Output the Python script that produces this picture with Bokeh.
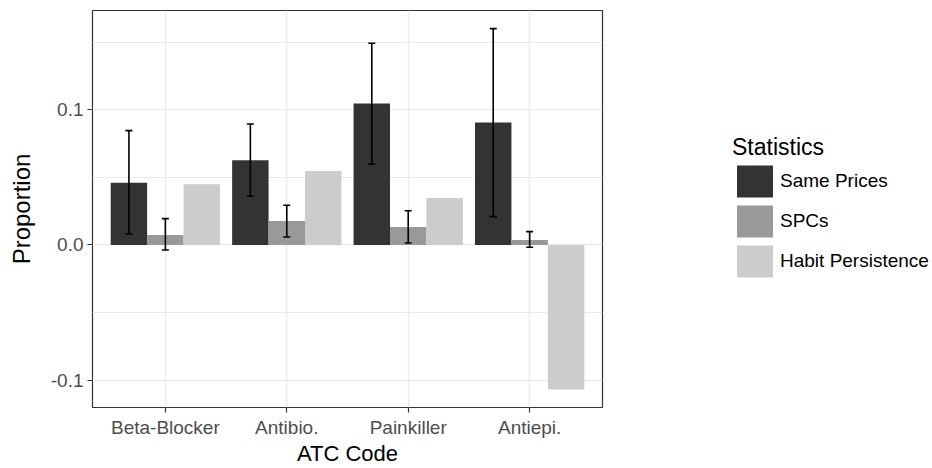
from bokeh.plotting import figure
from bokeh.models import (ColumnDataSource, FactorRange, Range1d, FixedTicker, NumeralTickFormatter,
                          Whisker, TeeHead, Legend, LegendItem)
from bokeh.transform import dodge
from bokeh.embed import file_html
from bokeh.resources import INLINE

# ---- data ----
categories = ["Beta-Blocker", "Antibio.", "Painkiller", "Antiepi."]
series_names = ["Same Prices", "SPCs", "Habit Persistence"]
same_prices = [0.0461, 0.0627, 0.1047, 0.0906]
same_lower = [0.0081, 0.0361, 0.0600, 0.0210]
same_upper = [0.0847, 0.0896, 0.1494, 0.1602]
spcs = [0.0074, 0.0178, 0.0133, 0.0037]
spcs_lower = [-0.0037, 0.0059, 0.0015, -0.0017]
spcs_upper = [0.0195, 0.0294, 0.0254, 0.0099]
habit = [0.0450, 0.0548, 0.0348, -0.1069]
y_ticks = [-0.1, 0.0, 0.1]
y_minor = [-0.05, 0.05, 0.15]

colors = ["#333333", "#999999", "#cccccc"]
FONT = "Liberation Sans"

src = ColumnDataSource(dict(cat=categories, sp=same_prices, sp_lo=same_lower, sp_hi=same_upper,
                            spc=spcs, spc_lo=spcs_lower, spc_hi=spcs_upper, hab=habit))

p = figure(frame_width=510, frame_height=397, output_backend="svg", toolbar_location=None,
           x_range=FactorRange(*categories, range_padding=0.1, range_padding_units="absolute"),
           y_range=Range1d(-0.1203, 0.1736),
           min_border_left=92, min_border_top=10, min_border_right=0, min_border_bottom=40)

r1 = p.vbar(x=dodge("cat", -0.3, range=p.x_range), top="sp", bottom=0, width=0.3, source=src,
            fill_color=colors[0], line_color=None)
r2 = p.vbar(x=dodge("cat", 0.0, range=p.x_range), top="spc", bottom=0, width=0.3, source=src,
            fill_color=colors[1], line_color=None)
r3 = p.vbar(x=dodge("cat", 0.3, range=p.x_range), top="hab", bottom=0, width=0.3, source=src,
            fill_color=colors[2], line_color=None)

for off, lo, hi in [(-0.3, "sp_lo", "sp_hi"), (0.0, "spc_lo", "spc_hi")]:
    w = Whisker(source=src, base=dodge("cat", off, range=p.x_range), lower=lo, upper=hi,
                line_width=1.6, line_color="black", level="overlay",
                upper_head=TeeHead(size=7, line_width=1.6, line_color="black"),
                lower_head=TeeHead(size=7, line_width=1.6, line_color="black"))
    p.add_layout(w)

# frame / grid
p.outline_line_color = "#333333"
p.outline_line_width = 1.2
p.background_fill_color = "white"
p.xgrid.grid_line_color = "#ebebeb"
p.xgrid.grid_line_width = 1.4
p.ygrid.grid_line_color = "#ebebeb"
p.ygrid.grid_line_width = 1.4
p.ygrid.minor_grid_line_color = "#ebebeb"
p.ygrid.minor_grid_line_width = 1.1
p.yaxis.ticker = FixedTicker(ticks=y_ticks, minor_ticks=y_minor)
p.yaxis.formatter = NumeralTickFormatter(format="0.0")

for ax in (p.xaxis[0], p.yaxis[0]):
    ax.axis_line_color = None
    ax.major_tick_line_color = "#333333"
    ax.major_tick_line_width = 1.2
    ax.major_tick_out = 5
    ax.major_tick_in = 0
    ax.minor_tick_line_color = None
    ax.major_label_text_font = FONT
    ax.major_label_text_font_size = "19px"
    ax.major_label_text_color = "#4d4d4d"
    ax.axis_label_text_font = FONT
    ax.axis_label_text_font_style = "normal"
    ax.axis_label_text_color = "black"

p.xaxis.axis_label = "ATC Code"
p.xaxis.axis_label_text_font_size = "22px"
p.xaxis.major_label_standoff = 4
p.xaxis.axis_label_standoff = 0
p.yaxis.axis_label = "Proportion"
p.yaxis.axis_label_text_font_size = "24px"
p.yaxis.major_label_standoff = 4
p.yaxis.axis_label_standoff = 13

legend = Legend(items=[LegendItem(label=series_names[0], renderers=[r1]),
                       LegendItem(label=series_names[1], renderers=[r2]),
                       LegendItem(label=series_names[2], renderers=[r3])],
                title="Statistics", location=(130, 126),
                title_text_font=FONT, title_text_font_size="23px", title_text_font_style="normal",
                title_text_color="black", title_standoff=0,
                label_text_font=FONT, label_text_font_size="19px", label_text_color="black",
                glyph_width=45, glyph_height=40, label_height=40, label_standoff=3,
                spacing=0, padding=0, margin=0, border_line_color=None, background_fill_alpha=0)
p.add_layout(legend, "right")

open("out.html", "w").write(file_html(p, INLINE))
